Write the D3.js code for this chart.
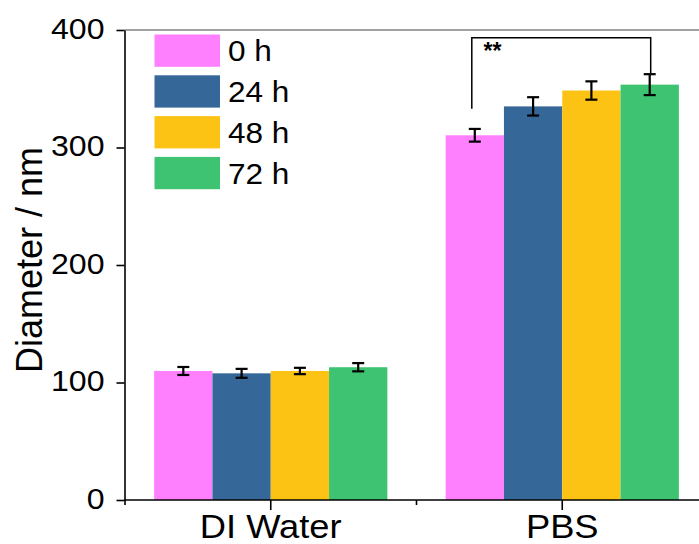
<!DOCTYPE html>
<html><head><meta charset="utf-8">
<script src="https://cdn.jsdelivr.net/npm/d3@7"></script>
<style>
html,body{margin:0;padding:0;background:#fff;}
svg{display:block;font-family:"Liberation Sans",Arial,sans-serif;}
</style></head>
<body>
<svg id="chart" width="699" height="544"></svg>
<script>
const categories = ["DI Water", "PBS"];
const seriesNames = ["0 h", "24 h", "48 h", "72 h"];
const seriesColors = ["#ff80ff", "#356898", "#fdc314", "#3dc372"];
const values0h  = [109.8, 310.4];
const values24h = [107.8, 335.0];
const values48h = [109.8, 348.5];
const values72h = [113.0, 353.5];
const errors0h  = [3.4, 5.4];
const errors24h = [3.8, 7.8];
const errors48h = [2.7, 7.8];
const errors72h = [3.5, 8.9];
const yTicks = [0, 100, 200, 300, 400];
const sigLabel = "**";

const allValues = [values0h, values24h, values48h, values72h];
const allErrors = [errors0h, errors24h, errors48h, errors72h];

const svg = d3.select("#chart");
const y = d3.scaleLinear().domain([0, 400]).range([500, 30]);
const x0 = d3.scaleBand().domain(categories).range([125, 708]).paddingInner(0).paddingOuter(0);
const bw = x0.bandwidth();
const x1 = d3.scaleBand().domain(seriesNames).range([bw * 0.1, bw * 0.9]).padding(0);

// bars
const data = [];
categories.forEach((c, ci) => {
  seriesNames.forEach((s, si) => {
    data.push({c, s, si, v: allValues[si][ci], e: allErrors[si][ci]});
  });
});
svg.append("g").selectAll("rect").data(data).join("rect")
  .attr("x", d => x0(d.c) + x1(d.s))
  .attr("y", d => y(d.v))
  .attr("width", x1.bandwidth())
  .attr("height", d => y(0) - y(d.v))
  .attr("fill", d => seriesColors[d.si]);

// error bars
const eg = svg.append("g").attr("stroke", "#000").attr("stroke-width", 2.2);
data.forEach(d => {
  const cx = x0(d.c) + x1(d.s) + x1.bandwidth() / 2;
  eg.append("line").attr("x1", cx).attr("x2", cx).attr("y1", y(d.v + d.e)).attr("y2", y(d.v - d.e));
  eg.append("line").attr("x1", cx - 6).attr("x2", cx + 6).attr("y1", y(d.v + d.e)).attr("y2", y(d.v + d.e));
  eg.append("line").attr("x1", cx - 6).attr("x2", cx + 6).attr("y1", y(d.v - d.e)).attr("y2", y(d.v - d.e));
});

// top frame
svg.append("line").attr("x1", 124.5).attr("x2", 699).attr("y1", 30).attr("y2", 30)
  .attr("stroke", "#444").attr("stroke-width", 1.2);

// y axis
const yAxis = svg.append("g").attr("transform", "translate(124.5,0)")
  .call(d3.axisLeft(y).tickValues(yTicks).tickSize(8).tickPadding(12).tickSizeOuter(0));
yAxis.select(".domain").attr("stroke-width", 1.6);
yAxis.selectAll(".tick line").attr("stroke-width", 1.6);
yAxis.selectAll("text").attr("font-size", 30).attr("font-family", "Liberation Sans, Arial, sans-serif")
  .attr("fill", "#000").attr("transform", "translate(-20,0) scale(1.07,1) translate(20,0)").attr("dy", "0.28em");

// x axis
const xAxis = svg.append("g").attr("transform", "translate(0,500)")
  .call(d3.axisBottom(x0).tickSize(10).tickPadding(4).tickSizeOuter(0));
xAxis.select(".domain").attr("d", "M124.5,0H699").attr("stroke-width", 1.6);
xAxis.selectAll(".tick line").attr("stroke-width", 1.6);
xAxis.selectAll("text").attr("font-size", 33).attr("font-family", "Liberation Sans, Arial, sans-serif")
  .attr("fill", "#000").attr("y", 0).attr("dy", 0).attr("transform", "translate(0,37.5) scale(1.1,1)");
// minor ticks between categories
const minorX = [x0(categories[0]), x0(categories[1])];
svg.append("g").selectAll("line").data(minorX).join("line")
  .attr("x1", d => d).attr("x2", d => d).attr("y1", 500).attr("y2", 505)
  .attr("stroke", "#000").attr("stroke-width", 1.6);

// y title
svg.append("text").attr("transform", "translate(42,260) rotate(-90)")
  .attr("text-anchor", "middle").attr("font-size", 36).attr("fill", "#000")
  .text("Diameter / nm");

// legend
const lg = svg.append("g");
seriesNames.forEach((s, i) => {
  const yy = 34.5 + i * 40.8;
  lg.append("rect").attr("x", 154.5).attr("y", yy).attr("width", 65.5).attr("height", 32.3).attr("fill", seriesColors[i]);
  lg.append("text").attr("x", 0).attr("y", 0)
    .attr("transform", `translate(228,${yy + 26.8}) scale(1.07,1)`)
    .attr("font-size", 29.5).attr("fill", "#000").text(s);
});

// significance bracket
const cxFirst = x0("PBS") + x1(seriesNames[0]) + x1.bandwidth() / 2 - 3;
const cxLast = x0("PBS") + x1(seriesNames[3]) + x1.bandwidth() / 2 + 1;
const yTop = y(393.5);
svg.append("path")
  .attr("d", `M${cxFirst},${y(333)}V${yTop}H${cxLast}V${y(363.5)}`)
  .attr("fill", "none").attr("stroke", "#000").attr("stroke-width", 1.5);
svg.append("text").attr("x", 492.5).attr("y", 59).attr("text-anchor", "middle")
  .attr("font-size", 23).attr("font-weight", "bold").attr("fill", "#000").text(sigLabel);
</script>
</body></html>
